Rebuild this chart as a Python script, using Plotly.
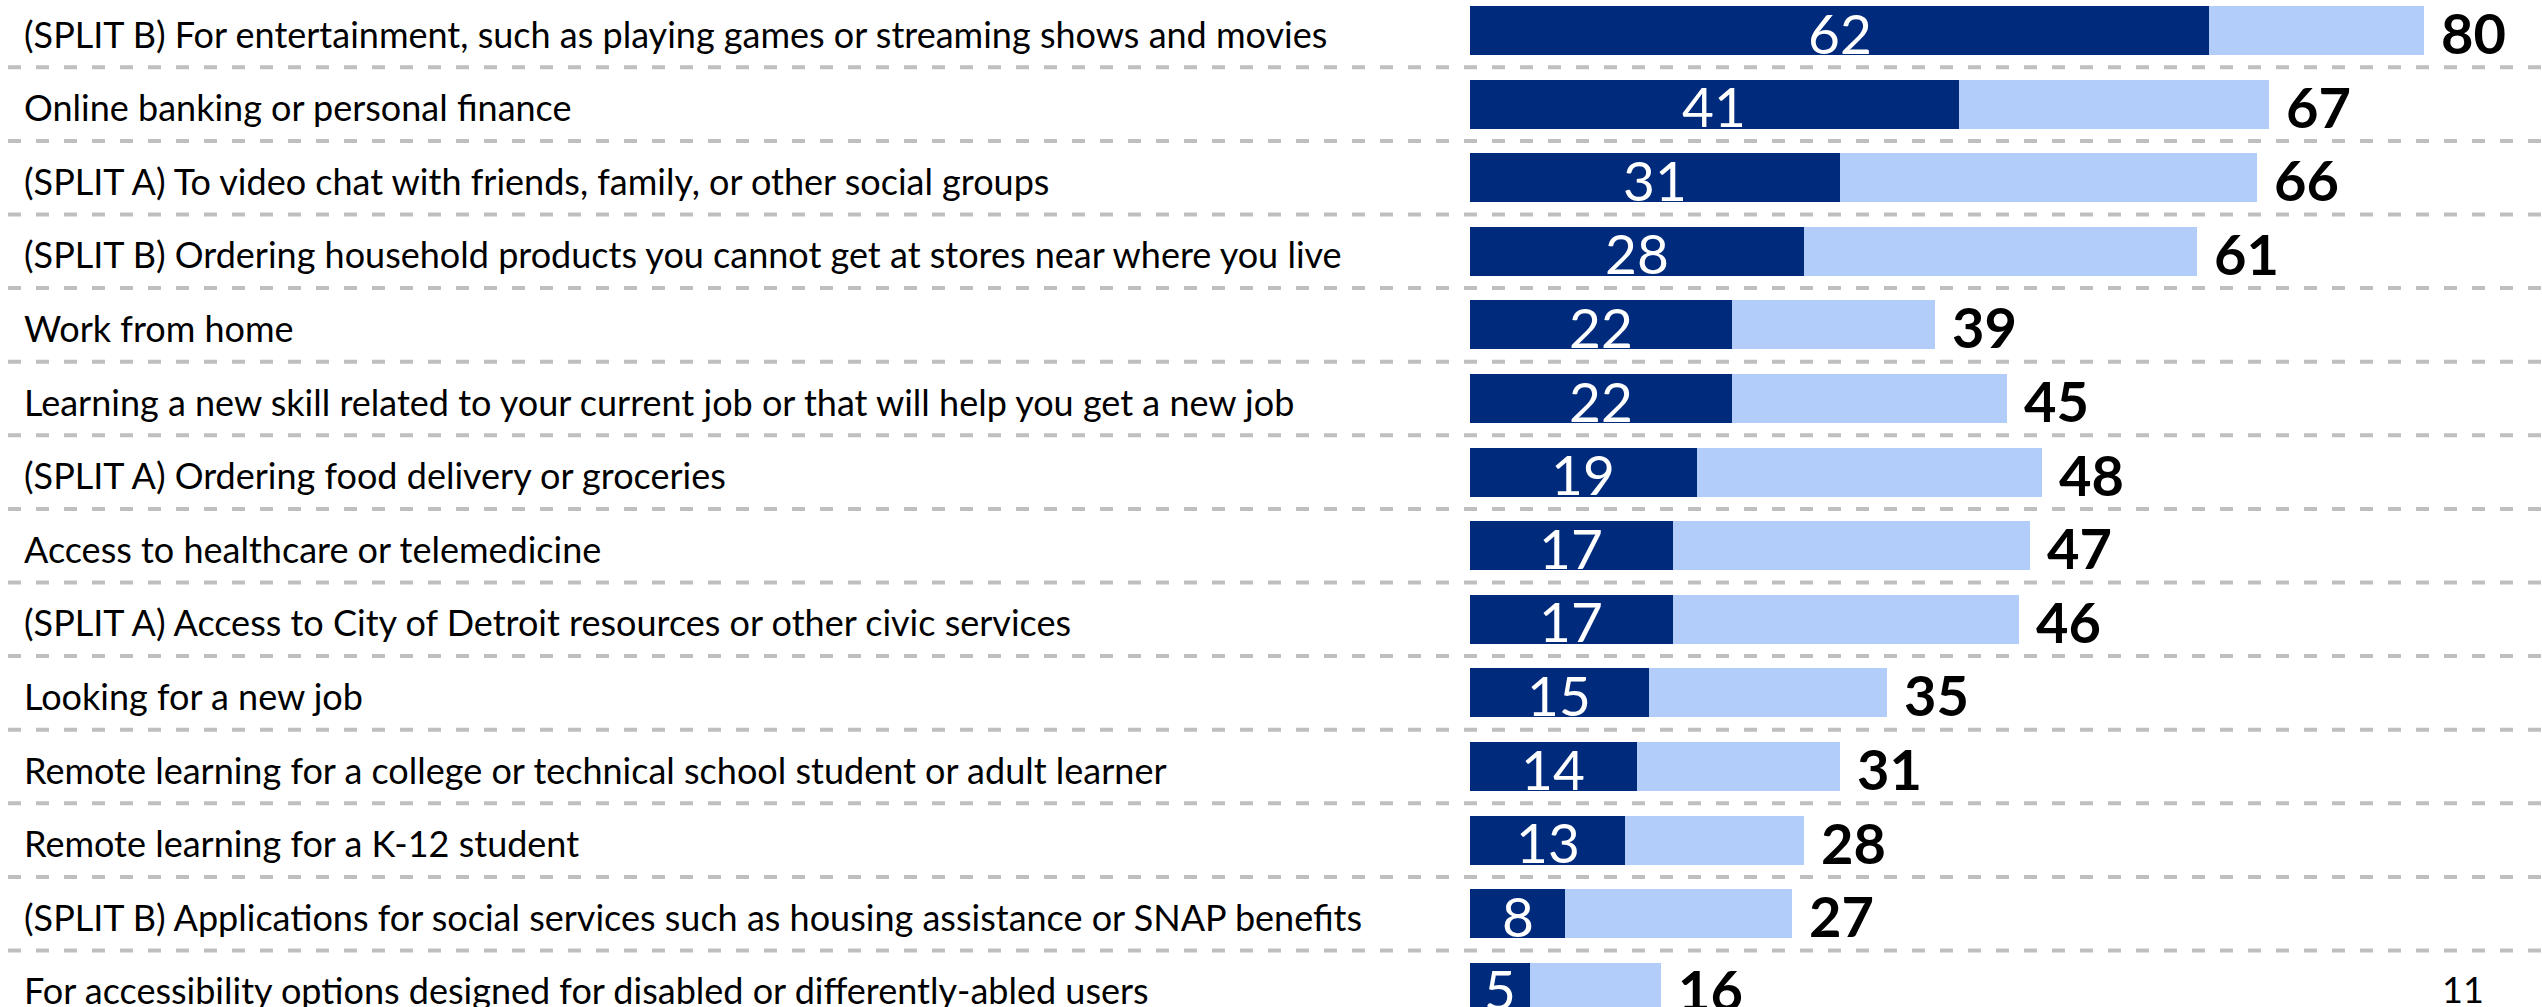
import plotly.graph_objects as go

# Survey items, top to bottom
categories = [
    "(SPLIT B) For entertainment, such as playing games or streaming shows and movies",
    "Online banking or personal finance",
    "(SPLIT A) To video chat with friends, family, or other social groups",
    "(SPLIT B) Ordering household products you cannot get at stores near where you live",
    "Work from home",
    "Learning a new skill related to your current job or that will help you get a new job",
    "(SPLIT A) Ordering food delivery or groceries",
    "Access to healthcare or telemedicine",
    "(SPLIT A) Access to City of Detroit resources or other civic services",
    "Looking for a new job",
    "Remote learning for a college or technical school student or adult learner",
    "Remote learning for a K-12 student",
    "(SPLIT B) Applications for social services such as housing assistance or SNAP benefits",
    "For accessibility options designed for disabled or differently-abled users",
]
# Dark segment (inner value) and full bar (total value)
dark_values = [62, 41, 31, 28, 22, 22, 19, 17, 17, 15, 14, 13, 8, 5]
total_values = [80, 67, 66, 61, 39, 45, 48, 47, 46, 35, 31, 28, 27, 16]
page_number = "11"

DARK = "#002B7C"
LIGHT = "#B3CDFB"
DASH = "#BFBFBF"
FONT = "Lato"

W, H = 2542, 1007
# pixel layout of the bar area
x0_px, px_per_unit = 1470, 11.925
row0_px, row_step = 30.5, 73.6

y_idx = list(range(len(categories)))

fig = go.Figure()
fig.add_trace(go.Bar(
    x=total_values, y=y_idx, orientation="h", width=0.666,
    marker=dict(color=LIGHT, line=dict(width=0)), hoverinfo="skip",
))
fig.add_trace(go.Bar(
    x=dark_values, y=y_idx, orientation="h", width=0.666,
    marker=dict(color=DARK, line=dict(width=0)), hoverinfo="skip",
))

annotations = []
for i, (cat, d, t) in enumerate(zip(categories, dark_values, total_values)):
    # item label at the left
    annotations.append(dict(
        x=22 / W, xref="paper", y=i, yref="y", xanchor="left", yanchor="middle",
        yshift=-3, text=cat, showarrow=False,
        font=dict(family=FONT, size=36, color="black"),
    ))
    # inner value, centred in the dark segment
    annotations.append(dict(
        x=d / 2, xref="x", y=i, yref="y", xanchor="center", yanchor="middle",
        yshift=-2, text=str(d), showarrow=False,
        font=dict(family=FONT, size=55, color="white"),
    ))
    # total value, just past the end of the bar
    annotations.append(dict(
        x=t, xref="x", y=i, yref="y", xanchor="left", yanchor="middle",
        xshift=15, yshift=-2, text="<b>%d</b>" % t, showarrow=False,
        font=dict(family=FONT, size=56, color="black"),
    ))

annotations.append(dict(
    x=2463 / W, xref="paper", y=1 - 989 / H, yref="paper",
    xanchor="center", yanchor="middle", text=page_number, showarrow=False,
    font=dict(family=FONT, size=36, color="black"),
))

# dashed separators between rows
shapes = []
for i in range(len(categories) - 1):
    shapes.append(dict(
        type="line", xref="paper", x0=8 / W, x1=1, yref="y", y0=i + 0.5, y1=i + 0.5,
        line=dict(color=DASH, width=4, dash="13px,15px"), layer="below",
    ))

x_range = [-x0_px / px_per_unit, (W - x0_px) / px_per_unit]
y_range = [(H - row0_px) / row_step, -row0_px / row_step]

fig.update_layout(
    width=W, height=H, barmode="overlay", bargap=0,
    margin=dict(l=0, r=0, t=0, b=0),
    paper_bgcolor="white", plot_bgcolor="white",
    showlegend=False, annotations=annotations, shapes=shapes,
    xaxis=dict(range=x_range, visible=False, fixedrange=True),
    yaxis=dict(range=y_range, visible=False, fixedrange=True),
)

fig.write_html("out.html", config={"displayModeBar": False})
